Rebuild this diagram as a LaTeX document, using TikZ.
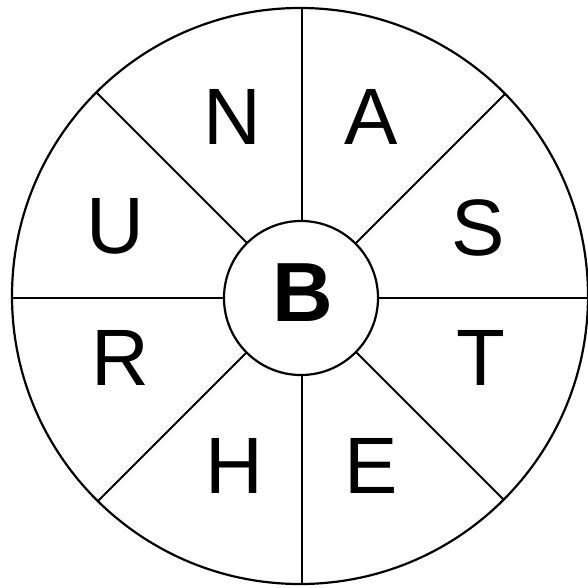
\documentclass[tikz,border=0pt]{standalone}
\usepackage{fontspec}
\setmainfont{Liberation Sans}
\usetikzlibrary{calc}
\begin{document}
\begin{tikzpicture}[x=1pt,y=-1pt,
  ring/.style={draw=black,line width=2.2pt},
  spoke/.style={draw=black,line width=2pt},
  letter/.style={font=\fontsize{80}{80}\selectfont,inner sep=0pt,anchor=center}]
\useasboundingbox (0,0) rectangle (588,588);
\fill[white] (0,0) rectangle (588,588);
\coordinate (c) at (300,296);
\coordinate (s) at (301.5,297.5);
\begin{scope}
\clip (c) circle[radius=288];
\foreach \a in {0,45,...,315}{
  \draw[spoke] ($(s)+(\a:77)$) -- ($(s)+(\a:295)$);
}
\end{scope}
\draw[ring] (c) circle[radius=288];
\node[circle,draw=black,line width=2.2pt,minimum size=154pt,inner sep=0pt,fill=white] (B) at (301,298) {};
\node[font=\fontsize{84}{84}\selectfont\bfseries,inner sep=0pt] (Bl) at (303,293) {B};
\node[letter] (N) at (232,117) {N};
\node[letter] (A) at (371,117) {A};
\node[letter] (U) at (115,226) {U};
\node[letter] (S) at (478,228) {S};
\node[letter] (R) at (120,358) {R};
\node[letter] (T) at (481,358) {T};
\node[letter] (H) at (234,466) {H};
\node[letter] (E) at (371,466) {E};
\end{tikzpicture}
\end{document}
